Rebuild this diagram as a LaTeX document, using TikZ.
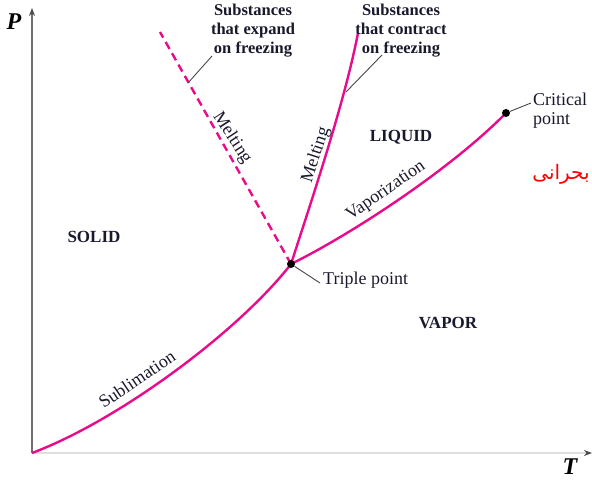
\documentclass[tikz,border=0pt]{standalone}
\usepackage{fontspec}
\setmainfont{Liberation Serif}
\newfontfamily\arabicfont[Script=Arabic]{DejaVu Sans}
\TeXXeTstate=1
\usetikzlibrary{arrows.meta}
\definecolor{curvecol}{RGB}{232,12,140}
\definecolor{ink}{RGB}{25,25,45}
\definecolor{leadcol}{RGB}{70,70,70}
\definecolor{yaxcol}{RGB}{110,110,110}
\definecolor{xaxcol}{RGB}{222,222,222}
\begin{document}
\begin{tikzpicture}[x=1pt,y=-1pt,
  phase/.style={draw=curvecol,line width=2.4pt},
  phasedash/.style={phase,dash pattern=on 8pt off 5pt},
  leader/.style={draw=leadcol,line width=0.9pt},
  yaxis/.style={draw=yaxcol,line width=2.2pt,-{Stealth[length=8pt,width=6pt,color=black!70]}},
  xaxis/.style={draw=xaxcol,line width=2.2pt,-{Stealth[length=8pt,width=6pt,color=black!70]}},
  axlbl/.style={text=black,inner sep=0pt,font=\fontsize{24}{26}\selectfont\bfseries\itshape},
  lbl/.style={text=ink,inner sep=0pt,font=\fontsize{18}{19}\selectfont},
  sublbl/.style={text=ink,inner sep=0pt,align=center,font=\fontsize{16.5}{19}\selectfont\bfseries},
  region/.style={text=ink,inner sep=0pt,font=\fontsize{17}{19}\selectfont\bfseries},
  dot/.style={circle,fill=black,inner sep=0pt,minimum size=8pt}]
\useasboundingbox (0,0) rectangle (592,481);
% axes
\coordinate (O) at (32,453);
\coordinate (ytop) at (32,8);
\coordinate (xend) at (592,453);
\draw[xaxis] (O) -- (xend);
\draw[yaxis] (O) -- (ytop);
\node[axlbl] (P) at (14,22) {P};
\node[axlbl] (T) at (570,467) {T};
% key points
\coordinate (tpc) at (291,264);
\coordinate (cpc) at (506,113);
\coordinate (mtop) at (358,33);
\coordinate (dtop) at (160,32);
% curves
\draw[phase] (O) .. controls (120,420) and (240,330) .. (tpc);
\draw[phase] (tpc) .. controls (350,235) and (450,170) .. (cpc);
\draw[phase] (tpc) .. controls (315,190) and (345,100) .. (mtop);
\draw[phasedash] (tpc) -- (dtop);
% dots
\node[dot] (tp) at (tpc) {};
\node[dot] (cp) at (cpc) {};
% leader lines
\coordinate (e1) at (188,83);
\coordinate (e2) at (212,56);
\coordinate (c1) at (346,92);
\coordinate (c2) at (382,55);
\coordinate (k2) at (531,103);
\coordinate (t2) at (320,283);
\draw[leader] (e1) -- (e2);
\draw[leader] (c1) -- (c2);
\draw[leader] (cp) -- (k2);
\draw[leader] (tp) -- (t2);
% labels
\node[sublbl] (expand) at (253,31) {Substances\\that expand\\on freezing};
\node[sublbl] (contract) at (401,31) {Substances\\that contract\\on freezing};
\node[lbl,align=left,anchor=west] (crit) at (533,111) {Critical\\point};
\node[lbl,anchor=base west] (triple) at (323,284) {Triple point};
\node[text=red,inner sep=0pt,font=\fontsize{20}{22}\selectfont\arabicfont] (bohrani) at (561,174) {\beginR بحرانی\endR};
\node[region] (solid) at (94,237) {SOLID};
\node[region] (liquid) at (401,137) {LIQUID};
\node[region] (vapor) at (448,323) {VAPOR};
\node[lbl,rotate=-57] (melt1) at (232,138) {Melting};
\node[lbl,rotate=72] (melt2) at (316,155) {Melting};
\node[lbl,rotate=35] (vap) at (386,191) {Vaporization};
\node[lbl,rotate=34] (subl) at (137,379) {Sublimation};
\end{tikzpicture}
\end{document}
